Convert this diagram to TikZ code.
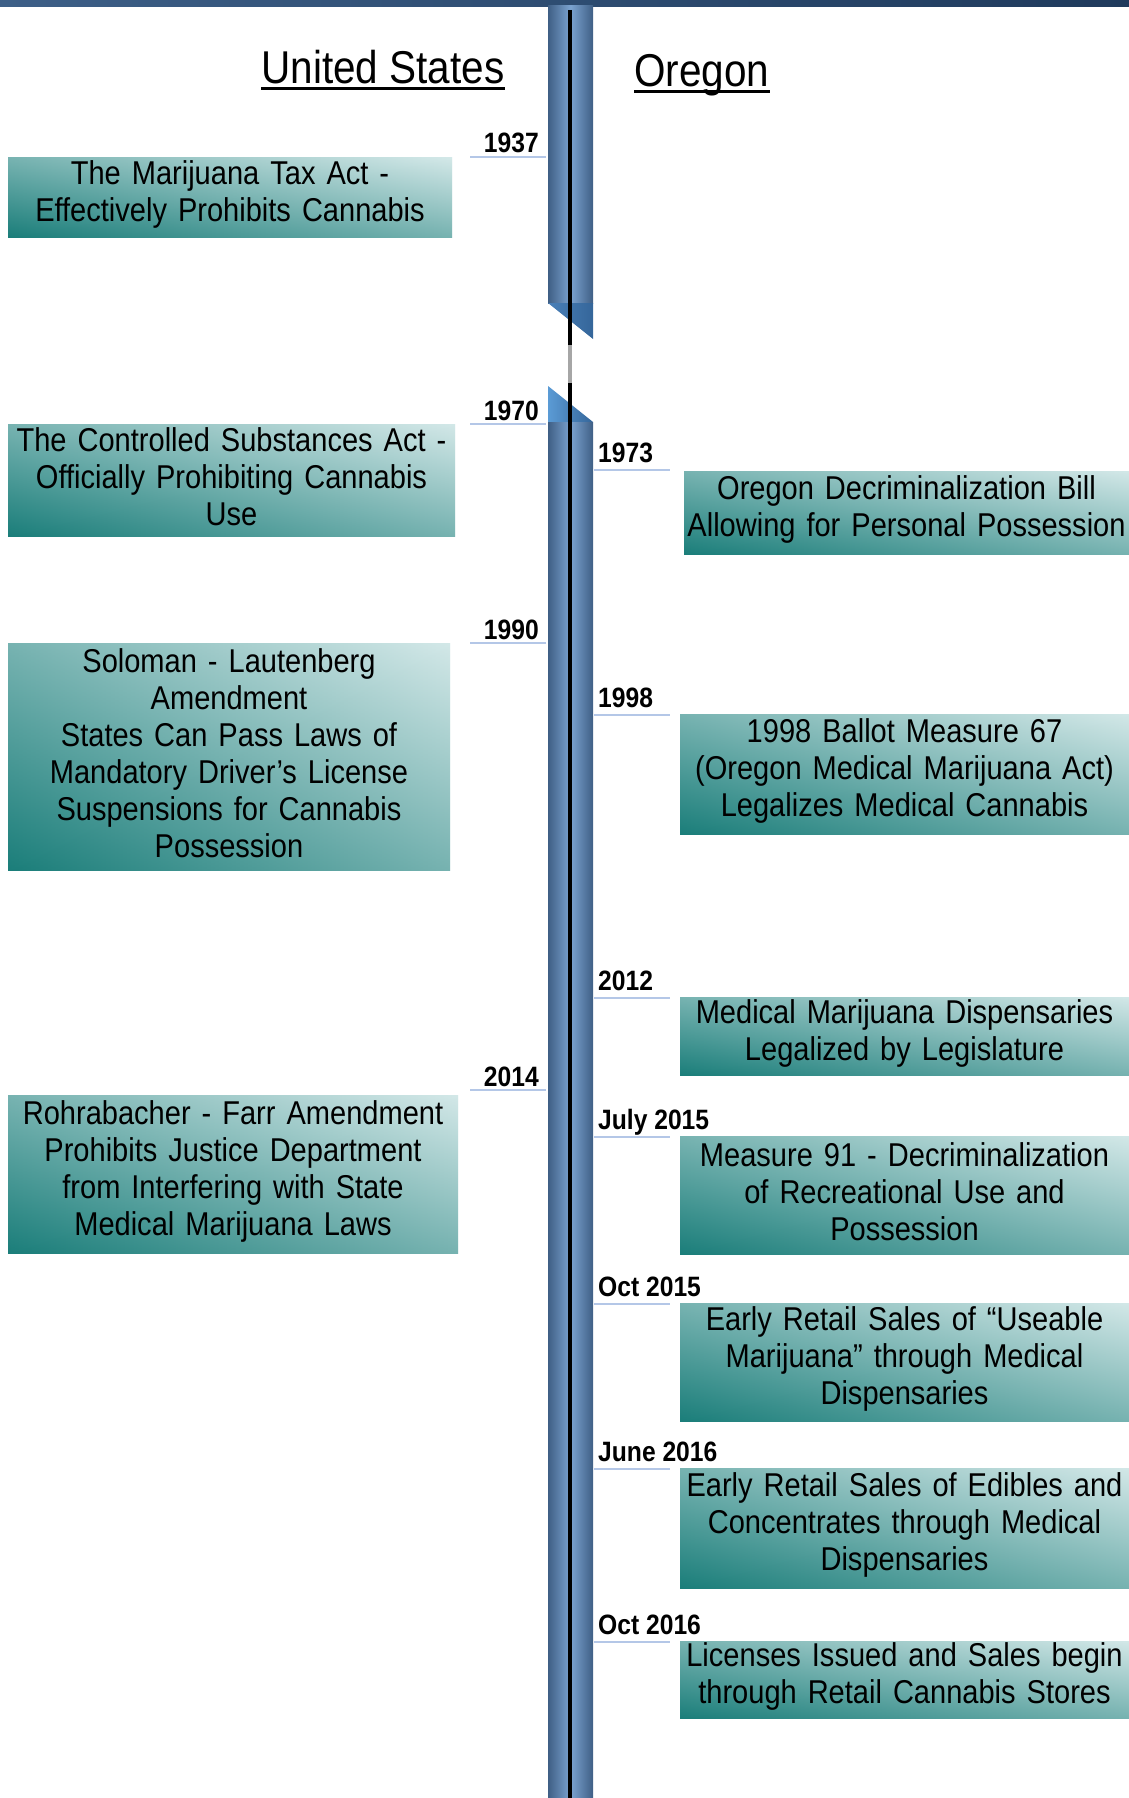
\documentclass[tikz,border=0pt]{standalone}
\usepackage{fontspec}
\setmainfont{Liberation Sans}[FakeStretch=0.88]

\definecolor{bandl}{HTML}{3D5F87}
\definecolor{bandr}{HTML}{1F3A5C}
\definecolor{bardk}{HTML}{3F5F85}
\definecolor{barlt}{HTML}{7BA3D0}
\definecolor{triup}{HTML}{4A80B8}
\definecolor{trilo}{HTML}{5B9BD5}
\definecolor{tridk}{HTML}{35669A}
\definecolor{tealdk}{HTML}{1B7E7A}
\definecolor{teallt}{HTML}{D3E8E8}
\definecolor{yrblue}{HTML}{B4C7E7}

\tikzset{
	evbox/.style={rectangle, inner sep=0pt, left color=tealdk, right color=teallt,
		postaction={top color=teallt, bottom color=tealdk, fill opacity=0.5}},
	evtext/.style={text width=470pt, align=center, inner sep=0pt, font=\fontsize{33}{37}\selectfont},
	yrlab/.style={inner sep=0pt, font=\bfseries\fontsize{28}{30}\selectfont},
	yrline/.style={draw=yrblue, line width=2.5pt},
	hdr/.style={inner sep=0pt, font=\fontsize{46}{50}\selectfont},
	barpart/.style={left color=bardk, right color=bardk, middle color=barlt}
}

\begin{document}
\begin{tikzpicture}[x=1pt, y=-1pt]
	\useasboundingbox (0,0) rectangle (1129,1798);
	\shade[left color=bandl, right color=bandr] (0,0) rectangle (1129,7);

	% timeline with a break
	\shade[barpart] (548,6) rectangle (593,303);
	\shade[left color=triup, right color=tridk] (548,303) -- (593,303) -- (593,339) -- cycle;
	\shade[left color=trilo, right color=tridk] (548,386) -- (548,422) -- (593,422) -- cycle;
	\shade[barpart] (548,422) rectangle (593,1798);
	\draw[line width=4pt] (570,10) -- (570,345);
	\draw[line width=4pt, gray!70] (570,345) -- (570,383);
	\draw[line width=4pt] (570,383) -- (570,1798);

	\node[hdr, anchor=base] (hdrUS) at (383,84) {United States};
	\draw[line width=3pt] ([yshift=-5pt]hdrUS.base west) -- ([yshift=-5pt]hdrUS.base east);
	\node[hdr, anchor=base] (hdrOR) at (702,87) {Oregon};
	\draw[line width=3pt] ([yshift=-5pt]hdrOR.base west) -- ([yshift=-5pt]hdrOR.base east);

	\foreach \yr/\ly in {1937/157, 1970/424, 1990/643, 2014/1090} {
		\node[yrlab, anchor=base east] (y\yr) at (539,\ly-4) {\yr};
		\draw[yrline] (y\yr.base east) ++(7,4) -- ++(-76,0);
	}
	\foreach \nm/\yr/\ly in {o1973/1973/470, o1998/1998/715, o2012/2012/998, o2015a/July 2015/1137, o2015b/Oct 2015/1304, o2016a/June 2016/1469, o2016b/Oct 2016/1642} {
		\node[yrlab, anchor=base west] (y\nm) at (598,\ly-8) {\yr};
		\draw[yrline] (y\nm.base west) ++(-4,8) -- ++(76,0);
	}

	\foreach \nm/\cx/\cy/\w/\h/\txt in {
		us1937/230/197.5/444/79/{The Marijuana Tax Act -\\Effectively Prohibits Cannabis},
		us1970/231.5/480/447/112/{The Controlled Substances Act -\\Officially Prohibiting Cannabis\\Use},
		us1990/229/756.5/442/227/{Soloman - Lautenberg\\Amendment\\States Can Pass Laws of\\Mandatory Driver’s License\\Suspensions for Cannabis\\Possession},
		us2014/233/1174/450/158/{Rohrabacher - Farr Amendment\\Prohibits Justice Department\\from Interfering with State\\Medical Marijuana Laws},
		o1973/906.5/512.5/445/83/{Oregon Decriminalization Bill\\Allowing for Personal Possession},
		o1998/904.5/774/449/120/{1998 Ballot Measure 67\\(Oregon Medical Marijuana Act)\\Legalizes Medical Cannabis},
		o2012/904.5/1036/449/78/{Medical Marijuana Dispensaries\\Legalized by Legislature},
		o2015a/904.5/1195/449/118/{Measure 91 - Decriminalization\\of Recreational Use and\\Possession},
		o2015b/904.5/1362/449/118/{Early Retail Sales of “Useable\\Marijuana” through Medical\\Dispensaries},
		o2016a/904.5/1528/449/120/{Early Retail Sales of Edibles and\\Concentrates through Medical\\Dispensaries},
		o2016b/904.5/1679.5/449/77/{Licenses Issued and Sales begin\\through Retail Cannabis Stores}} {
		\node[evbox, minimum width=\w pt, minimum height=\h pt] (\nm) at (\cx,\cy) {};
		\node[evtext] (t\nm) at ([yshift=3pt]\nm.center) {\txt};
	}
\end{tikzpicture}
\end{document}
